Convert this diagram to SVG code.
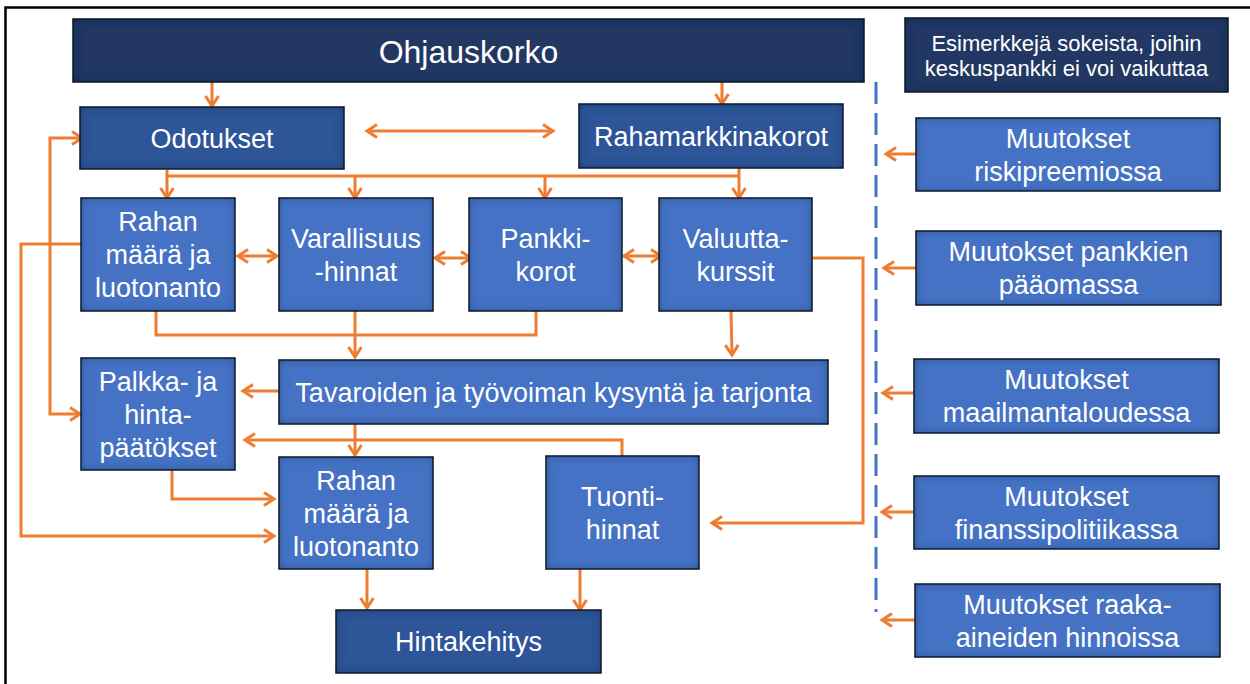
<svg xmlns="http://www.w3.org/2000/svg" width="1250" height="684" viewBox="0 0 1250 684">
<defs>
<style>
.box{stroke:#141414;stroke-width:1.3;filter:url(#inner)}
.lt{fill:#4472C4}
.md{fill:#2F5597}
.dk{fill:#203864}
.t{font-family:"Liberation Sans",Arial,sans-serif;font-size:27px;fill:#ffffff;text-anchor:middle}
.c{fill:none;stroke:#ED7D31;stroke-width:3}
.a{marker-end:url(#ah)}
.b{marker-start:url(#ah);marker-end:url(#ah)}
</style>
<filter id="inner" x="-10%" y="-10%" width="120%" height="120%">
<feFlood flood-color="#0a1a3a" flood-opacity="0.7" result="f"/>
<feComposite in="f" in2="SourceAlpha" operator="out" result="o"/>
<feGaussianBlur in="o" stdDeviation="4" result="bl"/>
<feComposite in="bl" in2="SourceAlpha" operator="in" result="sh"/>
<feMerge><feMergeNode in="SourceGraphic"/><feMergeNode in="sh"/></feMerge>
</filter>
<marker id="ah" viewBox="0 0 16 16" refX="13" refY="8" markerWidth="16" markerHeight="16" markerUnits="userSpaceOnUse" orient="auto-start-reverse">
<path d="M3,1.5 L13,8 L3,14.5" fill="none" stroke="#ED7D31" stroke-width="3"/>
</marker>
</defs>
<rect x="0" y="0" width="1250" height="684" fill="#ffffff"/>
<rect x="5.5" y="7.5" width="1260" height="700" fill="none" stroke="#000000" stroke-width="2.5"/>

<g id="connectors">
<path class="c a" d="M212,82 V106"/>
<path class="c a" d="M722,82 V104"/>
<path class="c b" d="M367,131 H553"/>
<path class="c" d="M167,170 V176 H739 M739,168 V176"/>
<path class="c a" d="M167,176 V198"/>
<path class="c a" d="M355,176 V198"/>
<path class="c a" d="M545,176 V198"/>
<path class="c a" d="M739,176 V198"/>
<path class="c b" d="M238,256 H277"/>
<path class="c b" d="M435,258 H471"/>
<path class="c b" d="M624,256 H661"/>
<path class="c" d="M156,311 V335 H536 V311"/>
<path class="c a" d="M355,311 V357"/>
<path class="c a" d="M731,311 L732,355"/>
<path class="c a" d="M812,258 H863 V523 H712"/>
<path class="c a" d="M279,391 H243"/>
<path class="c a" d="M622,456 V440 H245"/>
<path class="c a" d="M355,424 V455"/>
<path class="c a" d="M172,470 V499 H274"/>
<path class="c a" d="M81,244 H21 V536 H274"/>
<path class="c b" d="M82,138 H50 V414 H80"/>
<path class="c a" d="M367,569 V608"/>
<path class="c a" d="M580,569 V610"/>
<path class="c a" d="M916,154 H886"/>
<path class="c a" d="M916,268 H884"/>
<path class="c a" d="M914,393 H883"/>
<path class="c a" d="M914,512 H882"/>
<path class="c a" d="M915,620 H882"/>
<path d="M876,82 V612" fill="none" stroke="#4472C4" stroke-width="3" stroke-dasharray="22 9"/>
</g>

<g id="ohjauskorko"><rect class="box dk" x="73" y="19" width="791" height="63"/><text class="t" x="468.5" y="63" style="font-size:32px">Ohjauskorko</text></g>
<g id="odotukset"><rect class="box md" x="80" y="107" width="264" height="62"/><text class="t" x="212" y="147.5">Odotukset</text></g>
<g id="rahamarkkinakorot"><rect class="box md" x="579" y="104" width="264" height="64"/><text class="t" x="711" y="145.5">Rahamarkkinakorot</text></g>

<g id="rahan1"><rect class="box lt" x="81" y="198" width="154" height="113"/><text class="t" x="158" y="231">Rahan</text><text class="t" x="158" y="264">määrä ja</text><text class="t" x="158" y="297">luotonanto</text></g>
<g id="varallisuus"><rect class="box lt" x="279" y="198" width="154" height="113"/><text class="t" x="356" y="247.5">Varallisuus</text><text class="t" x="356" y="280.5">-hinnat</text></g>
<g id="pankkikorot"><rect class="box lt" x="469" y="198" width="153" height="113"/><text class="t" x="545.5" y="247.5">Pankki-</text><text class="t" x="545.5" y="280.5">korot</text></g>
<g id="valuuttakurssit"><rect class="box lt" x="659" y="198" width="153" height="113"/><text class="t" x="735.5" y="247.5">Valuutta-</text><text class="t" x="735.5" y="280.5">kurssit</text></g>

<g id="tavaroiden"><rect class="box lt" x="279" y="360" width="549" height="64"/><text class="t" x="553.5" y="401.5">Tavaroiden ja työvoiman kysyntä ja tarjonta</text></g>
<g id="palkka"><rect class="box lt" x="81" y="358" width="154" height="112"/><text class="t" x="158" y="390.5">Palkka- ja</text><text class="t" x="158" y="423.5">hinta-</text><text class="t" x="158" y="456.5">päätökset</text></g>
<g id="rahan2"><rect class="box lt" x="279" y="457" width="154" height="112"/><text class="t" x="356" y="489.5">Rahan</text><text class="t" x="356" y="522.5">määrä ja</text><text class="t" x="356" y="555.5">luotonanto</text></g>
<g id="tuonti"><rect class="box lt" x="546" y="456" width="153" height="113"/><text class="t" x="622.5" y="505.5">Tuonti-</text><text class="t" x="622.5" y="538.5">hinnat</text></g>
<g id="hintakehitys"><rect class="box md" x="336" y="610" width="265" height="63"/><text class="t" x="468.5" y="651">Hintakehitys</text></g>

<g id="esimerkkeja"><rect class="box dk" x="905" y="18" width="323" height="74"/><text class="t" x="1066.5" y="50.5" style="font-size:22px">Esimerkkejä sokeista, joihin</text><text class="t" x="1066.5" y="75.5" style="font-size:22px">keskuspankki ei voi vaikuttaa</text></g>
<g id="riskipreemio"><rect class="box lt" x="916" y="118" width="304" height="73"/><text class="t" x="1068" y="147.5">Muutokset</text><text class="t" x="1068" y="180.5">riskipreemiossa</text></g>
<g id="paaoma"><rect class="box lt" x="916" y="231" width="305" height="74"/><text class="t" x="1068.5" y="261">Muutokset pankkien</text><text class="t" x="1068.5" y="294">pääomassa</text></g>
<g id="maailmantalous"><rect class="box lt" x="914" y="359" width="305" height="74"/><text class="t" x="1066.5" y="389">Muutokset</text><text class="t" x="1066.5" y="422">maailmantaloudessa</text></g>
<g id="finanssipolitiikka"><rect class="box lt" x="914" y="476" width="305" height="73"/><text class="t" x="1066.5" y="505.5">Muutokset</text><text class="t" x="1066.5" y="538.5">finanssipolitiikassa</text></g>
<g id="raaka-aineet"><rect class="box lt" x="915" y="584" width="305" height="73"/><text class="t" x="1067.5" y="613.5">Muutokset raaka-</text><text class="t" x="1067.5" y="646.5">aineiden hinnoissa</text></g>
</svg>
